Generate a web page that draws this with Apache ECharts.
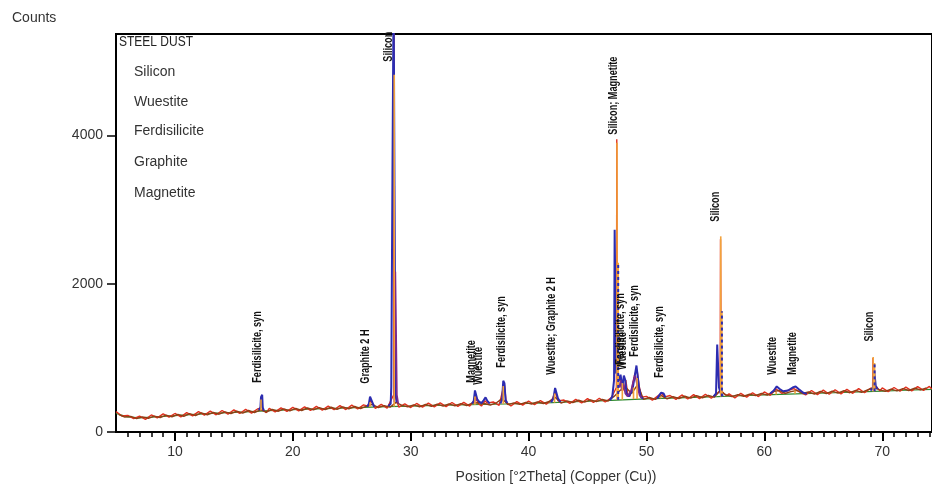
<!DOCTYPE html>
<html><head><meta charset="utf-8">
<script src="https://cdn.jsdelivr.net/npm/echarts@6/dist/echarts.min.js"></script>
<style>html,body{margin:0;padding:0;background:#fff}#c{width:932px;height:484px}</style>
</head><body><div id="c"></div>
<script>
// ---- tick labels ----
const xMajor = [10, 20, 30, 40, 50, 60, 70];
const xMinor = [6,7,8,9,11,12,13,14,15,16,17,18,19,21,22,23,24,25,26,27,28,29,31,32,33,34,35,36,37,38,39,41,42,43,44,45,46,47,48,49,51,52,53,54,55,56,57,58,59,61,62,63,64,65,66,67,68,69,71,72,73,74];
const yTicks = [0, 2000, 4000];
const legendNames = ["Silicon", "Wuestite", "Ferdisilicite", "Graphite", "Magnetite"];

// ---- background (green) ----
const background = [[5,250],[6,205],[7,190],[8,200],[9,212],[10,222],[12,242],[14,257],[16,272],[18,288],[20,300],[22,313],[24,322],[26,333],[28,342],[30,350],[32,358],[34,364],[36,371],[38,378],[40,386],[42,396],[44,408],[46,420],[48,434],[50,447],[52,458],[54,467],[56,476],[58,489],[60,500],[62,512],[64,521],[66,530],[68,541],[70,552],[72,563],[74.2,575]];

// ---- measured scan (red) ----
const measuredRed = [[5.0,275],[5.5,215],[6.0,225],[6.5,180],[7.0,215],[7.5,170],[8.0,230],[8.5,190],[9.0,245],[9.5,200],[10.0,250],[10.5,205],[11.0,262],[11.5,218],[12.0,275],[12.5,228],[13.0,282],[13.5,232],[14.0,290],[14.5,240],[15.0,298],[15.5,250],[16.0,305],[16.5,255],[17.0,310],[17.25,320],[17.35,440],[17.45,300],[17.75,262],[18.0,318],[18.5,272],[19.0,326],[19.5,278],[20.0,333],[20.5,285],[21.0,338],[21.5,290],[22.0,345],[22.5,295],[23.0,350],[23.5,300],[24.0,355],[24.5,303],[25.0,362],[25.5,310],[26.0,365],[26.4,345],[26.6,430],[26.8,370],[27.0,318],[27.5,372],[28.0,322],[28.3,420],[28.55,500],[28.58,5600],[28.62,5600],[28.65,500],[28.85,400],[29.0,335],[29.5,380],[30.0,330],[30.5,385],[31.0,335],[31.5,390],[32.0,340],[32.5,392],[33.0,343],[33.5,398],[34.0,345],[34.5,400],[35.0,350],[35.3,400],[35.5,480],[35.7,390],[36.0,350],[36.3,420],[36.5,390],[37.0,405],[37.5,360],[37.8,560],[37.95,640],[38.1,400],[38.5,350],[39.0,410],[39.5,362],[40.0,418],[40.5,368],[41.0,424],[41.5,375],[42.0,440],[42.25,540],[42.5,420],[43.0,432],[43.5,385],[44.0,440],[44.5,392],[45.0,450],[45.5,398],[46.0,455],[46.5,405],[47.0,460],[47.2,520],[47.45,600],[47.48,3950],[47.52,3950],[47.55,700],[47.75,700],[47.95,680],[48.1,560],[48.25,700],[48.4,520],[48.6,480],[48.8,620],[49.0,780],[49.2,840],[49.4,600],[49.6,470],[50.0,480],[50.5,430],[51.0,490],[51.3,520],[51.5,470],[52.0,492],[52.5,440],[53.0,500],[53.5,445],[54.0,505],[54.5,450],[55.0,510],[55.5,455],[55.8,500],[56.0,520],[56.25,560],[56.28,2600],[56.32,2600],[56.35,560],[56.55,520],[56.8,490],[57.0,515],[57.5,460],[58.0,522],[58.5,470],[59.0,530],[59.5,478],[60.0,540],[60.5,495],[61.0,580],[61.5,520],[62.0,560],[62.5,585],[63.0,540],[63.5,500],[64.0,560],[64.5,505],[65.0,565],[65.5,510],[66.0,570],[66.5,515],[67.0,575],[67.5,522],[68.0,585],[68.5,530],[69.0,590],[69.18,580],[69.21,1000],[69.25,1000],[69.28,600],[69.5,610],[69.8,555],[70.0,595],[70.5,545],[71.0,600],[71.5,550],[72.0,605],[72.5,555],[73.0,612],[73.5,562],[74.0,615],[74.2,580]];

// ---- second scan (brown) ----
const measuredBrown = [[5.25,235],[5.75,200],[6.25,210],[6.75,180],[7.25,205],[7.75,185],[8.25,215],[8.75,195],[9.25,228],[9.75,205],[10.25,238],[10.75,212],[11.25,248],[11.75,222],[12.25,258],[12.75,232],[13.25,264],[13.75,240],[14.25,272],[14.75,248],[15.25,280],[15.75,255],[16.25,290],[16.75,262],[17.25,300],[17.75,270],[18.25,305],[18.75,280],[19.25,312],[19.75,285],[20.25,318],[20.75,290],[21.25,324],[21.75,298],[22.25,330],[22.75,302],[23.25,334],[23.75,306],[24.25,340],[24.75,312],[25.25,344],[25.75,316],[26.25,348],[26.75,372],[27.25,330],[27.75,356],[28.25,335],[28.75,400],[29.25,360],[29.75,338],[30.25,366],[30.75,340],[31.25,372],[31.75,345],[32.25,376],[32.75,348],[33.25,380],[33.75,352],[34.25,384],[34.75,356],[35.25,392],[35.75,395],[36.25,385],[36.75,362],[37.25,392],[37.75,450],[38.25,370],[38.75,392],[39.25,372],[39.75,400],[40.25,378],[40.75,406],[41.25,385],[41.75,412],[42.25,470],[42.75,390],[43.25,420],[43.75,398],[44.25,428],[44.75,404],[45.25,434],[45.75,410],[46.25,440],[46.75,418],[47.25,480],[47.75,560],[48.25,600],[48.75,520],[49.25,640],[49.75,440],[50.25,465],[50.75,440],[51.25,490],[51.75,448],[52.25,478],[52.75,452],[53.25,485],[53.75,456],[54.25,490],[54.75,462],[55.25,495],[55.75,470],[56.25,560],[56.75,500],[57.25,478],[57.75,505],[58.25,482],[58.75,512],[59.25,490],[59.75,520],[60.25,498],[60.75,545],[61.25,560],[61.75,520],[62.25,545],[62.75,560],[63.25,520],[63.75,540],[64.25,512],[64.75,548],[65.25,518],[65.75,552],[66.25,524],[66.75,558],[67.25,530],[67.75,562],[68.25,535],[68.75,568],[69.25,600],[69.75,572],[70.25,548],[70.75,578],[71.25,555],[71.75,585],[72.25,560],[72.75,590],[73.25,568],[73.75,595]];

// ---- profile (blue), null = gap ----
const profileBlue = [[17.1,300],[17.25,330],[17.3,470],[17.4,503],[17.45,330],[17.55,290],[17.6,null],
[26.3,340],[26.45,380],[26.55,477],[26.7,470],[26.8,380],[26.9,340],[27.0,null],
[28.1,350],[28.3,380],[28.35,610],[28.42,610],[28.45,3445],[28.5,3445],[28.55,6000],[28.64,6000],[28.7,600],[28.8,400],[28.9,null],
[35.2,385],[35.35,420],[35.45,561],[35.55,540],[35.65,440],[35.8,410],[36.0,390],[36.2,430],[36.35,467],[36.5,420],[36.7,385],[36.8,null],
[37.6,385],[37.75,430],[37.85,692],[37.95,660],[38.05,430],[38.2,390],[38.3,null],
[41.9,400],[42.1,450],[42.25,594],[42.35,580],[42.5,450],[42.7,405],[42.8,null],
[46.9,430],[47.1,480],[47.25,700],[47.3,2730],[47.38,2730],[47.43,800],[47.6,760],[47.7,700],[47.8,773],[47.95,600],[48.08,760],[48.2,700],[48.3,520],[48.5,480],[48.8,560],[49.0,750],[49.15,897],[49.25,890],[49.35,620],[49.5,480],[49.7,450],[49.8,null],
[50.9,450],[51.1,500],[51.25,530],[51.45,520],[51.6,470],[51.7,null],
[55.7,480],[55.9,520],[56.0,1180],[56.08,1180],[56.15,600],[56.3,520],[56.5,490],[56.6,null],
[60.5,520],[60.8,560],[61.05,615],[61.3,580],[61.6,550],[62.0,560],[62.4,600],[62.65,615],[62.9,580],[63.3,530],[63.6,515],[63.7,null],
[69.0,560],[69.25,600],[69.3,850],[69.4,850],[69.45,620],[69.6,580]];

// ---- profile (purple) ----
const profilePurple = [[28.6,400],[28.7,2163],[28.78,2163],[28.83,500],[28.95,380],[29.0,null],
[35.4,400],[35.5,470],[35.6,420],[35.7,null],
[47.7,600],[47.8,700],[47.9,560],[48.05,640],[48.2,520],[48.4,480],[48.7,560],[48.9,700],[49.05,760],[49.2,640],[49.4,500],[49.6,460]];

// ---- reference sticks (orange): [2theta, base, top] ----
const sticks = [[17.3,292,440],[26.55,336,400],[28.6,344,4820],[35.45,368,480],[37.85,376,620],[42.2,396,520],[47.5,432,3904],[47.6,432,2285],[47.95,436,660],[48.9,444,600],[49.2,446,730],[51.2,455,480],[56.3,478,2640],[56.4,478,1628],[61.0,506,540],[62.6,515,560],[69.23,548,1012],[69.35,548,930]];
// ---- K-alpha2 overlay (blue dashed) ----
const sticksK2 = [[47.6,432,2285],[56.4,478,1628],[69.35,548,930]];

// ---- peak labels ----
const peakLabelX = [17.0, 26.2, 28.17, 35.19, 35.78, 37.73, 41.95, 47.19, 47.79, 47.95, 48.97, 51.08, 55.9, 60.72, 62.41, 68.92];
const peakLabelY = [665, 652, 4997, 665, 638, 868, 773, 4012, 908, 841, 1016, 733, 2838, 773, 773, 1220];
const peakLabelText = ["Ferdisilicite, syn", "Graphite 2 H", "Silicon", "Magnetite", "Wuestite", "Ferdisilicite, syn", "Wuestite; Graphite 2 H", "Silicon; Magnetite", "Ferdisilicite, syn", "Wuestite", "Ferdisilicite, syn", "Ferdisilicite, syn", "Silicon", "Wuestite", "Magnetite", "Silicon"];

const XMIN = 5, XMAX = 74.22, YMAX = 5370;
const FONT = "Liberation Sans, Arial, sans-serif";

function stickSeries(name, data, color, dashed, width) {
  return {
    type: 'custom', name, data, z: dashed ? 6 : 5, silent: true,
    encode: { x: 0, y: [1, 2] },
    renderItem: function (params, api) {
      const a = api.coord([api.value(0), api.value(1)]);
      const b = api.coord([api.value(0), api.value(2)]);
      return { type: 'line', shape: { x1: a[0], y1: a[1], x2: b[0], y2: b[1] },
        style: { stroke: color, lineWidth: width, lineDash: dashed ? [3, 3] : null } };
    }
  };
}

const labelData = peakLabelX.map((x, i) => [x, peakLabelY[i]]);

const chart = echarts.init(document.getElementById('c'), null, { renderer: 'canvas' });
chart.setOption({
  animation: false,
  backgroundColor: '#fff',
  grid: { left: 116, right: -2, top: 34, bottom: 52, show: true, borderColor: '#000', borderWidth: 2, backgroundColor: 'transparent' },
  xAxis: [{
    type: 'value', min: XMIN, max: XMAX, position: 'bottom',
    axisLine: { show: true, lineStyle: { color: '#000', width: 2 } },
    axisTick: { show: true, customValues: xMajor, length: 9, inside: false, lineStyle: { color: '#000', width: 2 } },
    axisLabel: { customValues: xMajor, margin: 13, fontSize: 14, fontFamily: FONT, color: '#333', formatter: v => String(v) },
    splitLine: { show: false }
  }, {
    type: 'value', min: XMIN, max: XMAX, position: 'bottom',
    axisLine: { show: false },
    axisTick: { show: true, customValues: xMinor, length: 5, lineStyle: { color: '#000', width: 1.5 } },
    axisLabel: { show: false },
    splitLine: { show: false }
  }],
  yAxis: {
    type: 'value', min: 0, max: YMAX,
    axisLine: { show: true, lineStyle: { color: '#000', width: 2 } },
    axisTick: { show: true, customValues: yTicks, length: 9, lineStyle: { color: '#000', width: 1.5 } },
    axisLabel: { customValues: yTicks, margin: 13, fontSize: 14, fontFamily: FONT, color: '#333', formatter: v => String(v) },
    splitLine: { show: false }
  },
  graphic: [
    { type: 'text', left: 12, top: 11, style: { text: 'Counts', font: '14px ' + FONT, fill: '#333' } },
    { type: 'text', x: 119, y: 42, scaleX: 0.8, style: { text: 'STEEL DUST', font: '15px ' + FONT, fill: '#222', textVerticalAlign: 'middle' } },
    ...legendNames.map((n, i) => ({ type: 'text', x: 134, y: [72, 102, 131, 162, 193][i],
      style: { text: n, font: '14px ' + FONT, fill: '#333', textVerticalAlign: 'middle' } })),
    { type: 'text', x: 556, y: 477, style: { text: 'Position [°2Theta] (Copper (Cu))', font: '14px ' + FONT, fill: '#333', textAlign: 'center', textVerticalAlign: 'middle' } }
  ],
  series: [
    { type: 'line', name: 'Background', data: background, showSymbol: false, z: 1, lineStyle: { color: '#2f8a2f', width: 1.2 }, silent: true },
    { type: 'line', name: 'Scan', data: measuredRed, showSymbol: false, z: 2, lineStyle: { color: '#e0301e', width: 1.4 }, silent: true },
    { type: 'line', name: 'Scan 2', data: measuredBrown, showSymbol: false, z: 2, lineStyle: { color: '#8f3f16', width: 1.4 }, silent: true },
    { type: 'line', name: 'Profile', data: profileBlue, showSymbol: false, connectNulls: false, z: 3, lineStyle: { color: '#2c2cb0', width: 2 }, silent: true },
    { type: 'line', name: 'Profile 2', data: profilePurple, showSymbol: false, connectNulls: false, z: 4, lineStyle: { color: '#7a2a8c', width: 1.6 }, silent: true },
    stickSeries('Reference', sticks, '#f2a23c', false, 1.6),
    stickSeries('K-alpha2', sticksK2, '#2c2cb0', true, 2),
    {
      type: 'custom', name: 'Labels', data: labelData, z: 10, silent: true,
      encode: { x: 0, y: 1 },
      renderItem: function (params, api) {
        const p = api.coord([api.value(0), api.value(1)]);
        return { type: 'text', x: p[0], y: p[1], rotation: Math.PI / 2, scaleX: 0.76,
          style: { text: peakLabelText[params.dataIndex], font: 'bold 12px ' + FONT, fill: '#111', textAlign: 'left', textVerticalAlign: 'middle' } };
      }
    }
  ]
});
</script></body></html>
